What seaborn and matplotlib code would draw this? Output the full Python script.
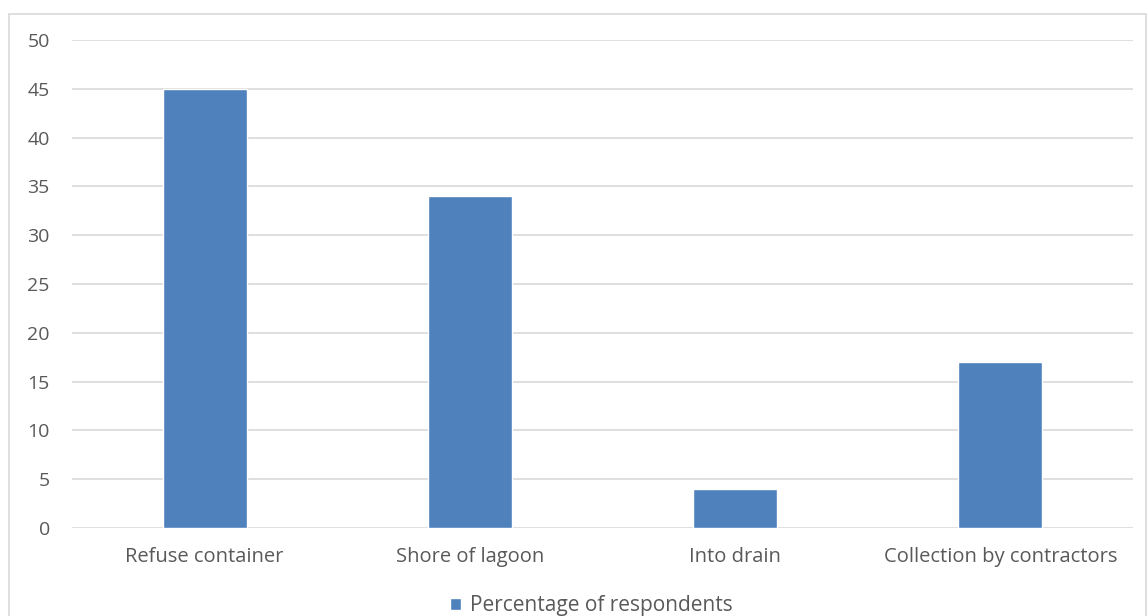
import matplotlib.pyplot as plt
import matplotlib.patches as mpatches
import seaborn as sns
import pandas as pd

# data
categories = ['Refuse container', 'Shore of lagoon', 'Into drain', 'Collection by contractors']
percentages = [45, 34, 4, 17]
series_name = 'Percentage of respondents'

bar_color = '#4F81BD'
grid_color = '#D9D9D9'
text_color = '#595959'

sns.set_theme(style='white')
plt.rcParams['font.family'] = ['Open Sans', 'DejaVu Sans']

df = pd.DataFrame({'category': categories, 'value': percentages})

fig = plt.figure(figsize=(11.48, 6.16), dpi=100)
# axes area in pixel terms: x 72..1133, y 40..528 (top-down)
ax = fig.add_axes([72 / 1148, (616 - 528) / 616, (1133 - 72) / 1148, (528 - 40) / 616])

sns.barplot(data=df, x='category', y='value', color=bar_color, width=0.317,
            saturation=1, label=series_name, ax=ax, zorder=3)

ax.set_ylim(0, 50)
ax.set_yticks(range(0, 51, 5))
ax.set_xlim(-0.5, len(categories) - 0.5)
ax.yaxis.grid(True, color=grid_color, linewidth=1.2, zorder=0)
ax.set_axisbelow(True)
for s in ax.spines.values():
    s.set_visible(False)
ax.set_xlabel('')
ax.set_ylabel('')
ax.tick_params(axis='y', length=0, pad=16, labelsize=14, labelcolor=text_color)
ax.tick_params(axis='x', length=0, pad=14, labelsize=14.5, labelcolor=text_color)
if ax.get_legend():
    ax.get_legend().remove()

handles, labels = ax.get_legend_handles_labels()
fig.legend(handles, labels, loc='center', bbox_to_anchor=(591 / 1148, (616 - 606) / 616),
           frameon=False, fontsize=15, handlelength=0.55, handleheight=0.55,
           handletextpad=0.4, labelcolor=text_color)

# outer chart border (as in the office-style chart frame)
fig.patches.append(mpatches.Rectangle((9 / 1148, -0.1), (1146 - 9) / 1148, 1.1 - 14 / 616,
                                      transform=fig.transFigure, fill=False,
                                      edgecolor='#D9D9D9', linewidth=1.2))

plt.savefig('out.png', dpi=100)
plt.close()
